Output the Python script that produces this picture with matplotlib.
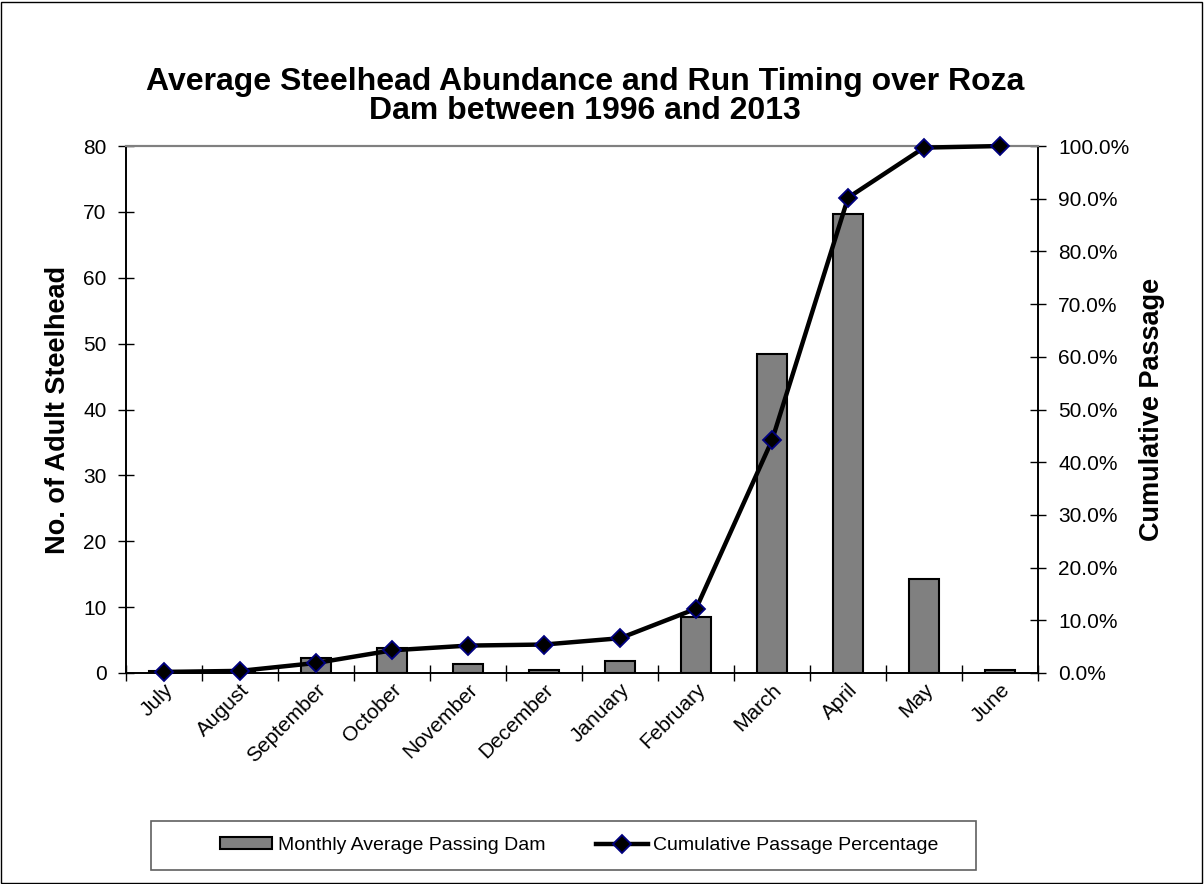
import matplotlib.pyplot as plt
from matplotlib.patches import Rectangle
from matplotlib.ticker import FuncFormatter, FixedLocator

plt.rcParams['font.family'] = ['Liberation Sans', 'DejaVu Sans']

months = ['July', 'August', 'September', 'October', 'November', 'December',
          'January', 'February', 'March', 'April', 'May', 'June']
monthly_avg = [0.3, 0.3, 2.2, 3.75, 1.3, 0.4, 1.8, 8.5, 48.4, 69.75, 14.3, 0.45]
cumulative_pct = [0.2, 0.4, 1.9, 4.3, 5.2, 5.4, 6.6, 12.2, 44.2, 90.2, 99.7, 100.0]

fig = plt.figure(figsize=(12.04, 8.84), dpi=100)
ax = fig.add_axes([0.1047, 0.2387, 0.7575, 0.5961])
x = range(len(months))

bars = ax.bar(x, monthly_avg, width=0.4, color='#808080', edgecolor='black',
              linewidth=1.5, label='Monthly Average Passing Dam', zorder=2)
ax.set_xlim(-0.5, len(months) - 0.5)
ax.set_ylim(0, 80)
ax.set_yticks(range(0, 81, 10))
ax.set_xticks(list(x))
ax.set_xticklabels(months, rotation=45, ha='right', rotation_mode='anchor', fontsize=15)
ax.xaxis.set_minor_locator(FixedLocator([i - 0.5 for i in range(len(months) + 1)]))
ax.tick_params(axis='x', which='major', length=0, pad=5)
ax.tick_params(axis='x', which='minor', direction='inout', length=11, width=1)
ax.tick_params(axis='y', direction='inout', length=11, width=1, labelsize=15, pad=8.5)
ax.set_ylabel('No. of Adult Steelhead', fontsize=19.5, fontweight='bold', labelpad=9)

ax2 = ax.twinx()
line, = ax2.plot(x, cumulative_pct, color='black', linewidth=3.2, marker='D',
                 markersize=9, markerfacecolor='black', markeredgecolor='#000080',
                 markeredgewidth=1.3, label='Cumulative Passage Percentage', zorder=3,
                 clip_on=False)
ax2.set_ylim(0, 100)
ax2.set_yticks(range(0, 101, 10))
ax2.yaxis.set_major_formatter(FuncFormatter(lambda v, p: f'{v:.1f}%'))
ax2.tick_params(axis='y', direction='inout', length=11, width=1, labelsize=15, pad=9)
ax2.set_ylabel('Cumulative Passage', fontsize=19.5, fontweight='bold', labelpad=7)

for a in (ax, ax2):
    for side in ('left', 'right', 'bottom'):
        a.spines[side].set_color('black')
        a.spines[side].set_linewidth(1.2)
    a.spines['top'].set_color('#808080')
    a.spines['top'].set_linewidth(1.5)

fig.text(0.486, 0.891, 'Average Steelhead Abundance and Run Timing over Roza\nDam between 1996 and 2013',
         ha='center', va='center', fontsize=23, fontweight='bold', linespacing=0.98)

fig.legend([bars, line], ['Monthly Average Passing Dam', 'Cumulative Passage Percentage'],
           loc='center left', bbox_to_anchor=(0.1745, 0.0435), bbox_transform=fig.transFigure,
           ncol=2, fontsize=14, frameon=False, borderpad=0,
           handlelength=2.67, handletextpad=0.3, columnspacing=2.6, handleheight=0.6)
# legend box
fig.patches.append(Rectangle((0.1252, 0.0158), 0.6855, 0.0558, transform=fig.transFigure,
                             fill=False, edgecolor='#606060', linewidth=1.2))

fig.patches.append(Rectangle((0.001, 0.001), 0.997, 0.997, transform=fig.transFigure,
                             fill=False, edgecolor='black', linewidth=1))

fig.savefig('out.png', dpi=100)
